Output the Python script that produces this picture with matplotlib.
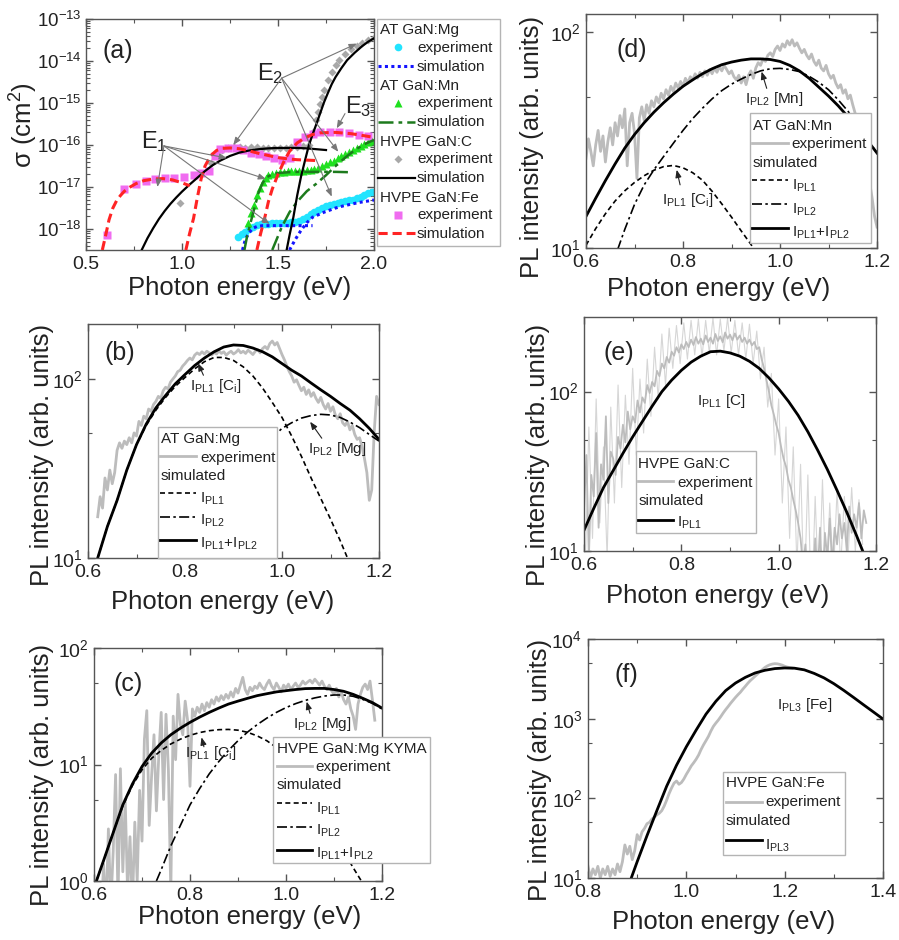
import numpy as np
import matplotlib
matplotlib.use('Agg')
import matplotlib.pyplot as plt
from matplotlib.transforms import Affine2D
from matplotlib.lines import Line2D
from matplotlib.patches import Rectangle
from matplotlib.ticker import LogLocator, MultipleLocator, FormatStrFormatter, NullFormatter

plt.rcParams['font.family'] = ['Liberation Sans', 'DejaVu Sans']
plt.rcParams['mathtext.fontset'] = 'custom'
plt.rcParams['mathtext.rm'] = 'Liberation Sans'
plt.rcParams['mathtext.it'] = 'Liberation Sans:italic'
plt.rcParams['mathtext.bf'] = 'Liberation Sans:bold'
plt.rcParams['mathtext.default'] = 'regular'
plt.rcParams['axes.unicode_minus'] = False

# ---------------- (a) photoionisation cross sections, log10(sigma / cm^2) ----------------
mg_exp_e = [1.29, 1.31, 1.33, 1.35, 1.37, 1.39, 1.41, 1.43, 1.45, 1.47, 1.49, 1.51, 1.53, 1.55, 1.57, 1.59,
            1.61, 1.63, 1.65, 1.67, 1.69, 1.71, 1.73, 1.75, 1.77, 1.79, 1.81, 1.83, 1.85, 1.87, 1.89, 1.91,
            1.93, 1.95, 1.97, 1.99]
mg_exp_lg = [-18.18, -18.12, -18.06, -18.00, -17.95, -17.91, -17.89, -17.88, -17.87, -17.86, -17.86, -17.85,
             -17.85, -17.85, -17.84, -17.83, -17.80, -17.76, -17.71, -17.65, -17.59, -17.54, -17.49, -17.45,
             -17.42, -17.40, -17.38, -17.36, -17.34, -17.32, -17.30, -17.27, -17.23, -17.19, -17.15, -17.12]
mg_sim1_e = [1.315, 1.33, 1.35, 1.37, 1.39, 1.42, 1.46, 1.50, 1.55, 1.60, 1.65, 1.68]
mg_sim1_lg = [-18.5, -18.25, -18.08, -17.98, -17.94, -17.92, -17.92, -17.92, -17.92, -17.92, -17.92, -17.92]
mg_sim2_e = [1.56, 1.59, 1.62, 1.65, 1.68, 1.71, 1.74, 1.77, 1.80, 1.84, 1.88, 1.92, 1.96, 2.00]
mg_sim2_lg = [-18.5, -18.25, -18.03, -17.85, -17.72, -17.66, -17.6, -17.55, -17.5, -17.45, -17.41, -17.37,
              -17.34, -17.31]

mn_exp_e = [1.345, 1.36, 1.375, 1.39, 1.405, 1.42, 1.435, 1.45, 1.47, 1.49, 1.51, 1.53, 1.55, 1.57, 1.59,
            1.61, 1.63, 1.65, 1.67, 1.69, 1.71, 1.73, 1.75, 1.77, 1.79, 1.81, 1.83, 1.85, 1.87, 1.89, 1.91,
            1.93, 1.95, 1.97, 1.99]
mn_exp_lg = [-17.85, -17.62, -17.42, -17.2, -17.02, -16.88, -16.78, -16.72, -16.68, -16.66, -16.65, -16.64,
             -16.63, -16.63, -16.62, -16.62, -16.61, -16.60, -16.59, -16.57, -16.54, -16.50, -16.46, -16.41,
             -16.37, -16.32, -16.27, -16.22, -16.17, -16.12, -16.07, -16.02, -15.98, -15.94, -15.90]
mn_sim1_e = [1.325, 1.34, 1.36, 1.38, 1.40, 1.42, 1.44, 1.47, 1.50, 1.55, 1.60, 1.70, 1.80, 1.89]
mn_sim1_lg = [-18.5, -18.15, -17.8, -17.45, -17.12, -16.9, -16.77, -16.70, -16.67, -16.65, -16.64, -16.64,
              -16.64, -16.65]
mn_sim2_e = [1.47, 1.52, 1.56, 1.60, 1.65, 1.70, 1.75, 1.80, 1.85, 1.90, 1.95, 2.00]
mn_sim2_lg = [-18.5, -17.95, -17.6, -17.35, -17.1, -16.92, -16.72, -16.5, -16.3, -16.12, -15.98, -15.88]

gc_exp_e = [0.99, 1.15, 1.18, 1.21, 1.24, 1.27, 1.30, 1.33, 1.36, 1.39, 1.42, 1.45, 1.48, 1.51, 1.54, 1.57,
            1.60, 1.63, 1.66, 1.68, 1.70, 1.71, 1.72, 1.73, 1.74, 1.76, 1.78, 1.80, 1.82, 1.85, 1.88, 1.91,
            1.94, 1.97, 2.00]
gc_exp_lg = [-17.38, -16.42, -16.22, -16.12, -16.07, -16.05, -16.05, -16.06, -16.05, -16.05, -16.06, -16.06,
             -16.07, -16.07, -16.06, -16.05, -16.04, -16.02, -16.0, -15.7, -15.4, -15.22, -15.02, -14.85,
             -14.7, -14.45, -14.25, -14.1, -13.97, -13.83, -13.72, -13.64, -13.57, -13.51, -13.45]
gc_sim1_e = [0.79, 0.82, 0.85, 0.88, 0.91, 0.94, 0.97, 1.00, 1.04, 1.08, 1.12, 1.16, 1.20, 1.25, 1.30, 1.35,
             1.40, 1.45, 1.50, 1.55, 1.60, 1.65, 1.70, 1.75]
gc_sim1_lg = [-18.5, -18.22, -17.98, -17.76, -17.57, -17.40, -17.25, -17.11, -16.94, -16.78, -16.62, -16.48,
              -16.37, -16.26, -16.18, -16.13, -16.10, -16.08, -16.07, -16.07, -16.07, -16.08, -16.10, -16.12]
gc_sim2_e = [1.545, 1.56, 1.58, 1.60, 1.62, 1.64, 1.66, 1.68, 1.70, 1.72, 1.74, 1.76, 1.78, 1.80, 1.83, 1.86,
             1.90, 1.94, 1.97, 2.00]
gc_sim2_lg = [-18.5, -18.15, -17.72, -17.2, -16.75, -16.38, -16.02, -15.75, -15.5, -15.24, -14.98, -14.76,
              -14.55, -14.38, -14.17, -13.98, -13.8, -13.64, -13.54, -13.46]

fe_exp_e = [0.61, 0.70, 0.76, 0.81, 0.86, 0.91, 0.96, 1.01, 1.06, 1.10, 1.14, 1.17, 1.20, 1.24, 1.28, 1.32,
            1.36, 1.40, 1.44, 1.48, 1.52, 1.56, 1.60, 1.64, 1.68, 1.72, 1.77, 1.82, 1.87, 1.92, 1.97]
fe_exp_lg = [-18.15, -17.05, -16.92, -16.85, -16.80, -16.78, -16.78, -16.76, -16.72, -16.66, -16.62, -16.25,
             -16.10, -16.08, -16.08, -16.12, -16.18, -16.22, -16.26, -16.32, -16.35, -16.30, -15.92, -15.80,
             -15.74, -15.70, -15.70, -15.70, -15.72, -15.75, -15.78]
fe_sim1_e = [0.585, 0.60, 0.62, 0.64, 0.66, 0.68, 0.70, 0.73, 0.76, 0.80, 0.85, 0.90, 0.95, 1.00, 1.04]
fe_sim1_lg = [-18.5, -18.2, -17.78, -17.5, -17.32, -17.2, -17.1, -17.0, -16.92, -16.85, -16.81, -16.80,
              -16.83, -16.90, -16.97]
fe_sim2_e = [1.02, 1.04, 1.06, 1.08, 1.10, 1.12, 1.15, 1.18, 1.21, 1.25, 1.30, 1.35, 1.40, 1.45, 1.50, 1.55,
             1.60, 1.65, 1.70]
fe_sim2_lg = [-18.5, -18.1, -17.75, -17.25, -16.80, -16.50, -16.25, -16.13, -16.08, -16.07, -16.09, -16.14,
              -16.20, -16.25, -16.30, -16.33, -16.35, -16.36, -16.37]
fe_sim3_e = [1.39, 1.41, 1.43, 1.45, 1.47, 1.50, 1.53, 1.56, 1.60, 1.64, 1.68, 1.72, 1.80, 1.88, 1.95, 2.00]
fe_sim3_lg = [-18.5, -18.1, -17.75, -17.35, -17.05, -16.7, -16.4, -16.15, -15.95, -15.83, -15.75, -15.71,
              -15.70, -15.73, -15.78, -15.82]

# ---------------- (b) AT GaN:Mg ----------------
b_sim_e = [0.62, 0.64, 0.66, 0.68, 0.70, 0.72, 0.74, 0.76, 0.78, 0.80, 0.82, 0.84, 0.86, 0.88, 0.90, 0.92,
           0.94, 0.96, 0.98, 1.00, 1.02, 1.04, 1.06, 1.08, 1.10, 1.12, 1.14, 1.16, 1.18, 1.20]
b_total = [10, 15, 21, 31, 43, 56, 69, 81, 94, 106, 119, 131, 142, 151, 155, 154, 149, 142, 133, 122, 112,
           104, 95, 87, 80, 73, 67, 60, 53, 46]
b_pl1_e = [0.62, 0.64, 0.66, 0.68, 0.70, 0.72, 0.74, 0.76, 0.78, 0.80, 0.82, 0.84, 0.86, 0.88, 0.90, 0.92,
           0.94, 0.96, 0.98, 1.00, 1.02, 1.04, 1.06, 1.08, 1.10, 1.12, 1.135]
b_pl1 = [10, 15, 21, 31, 43, 55, 67, 79, 91, 102, 114, 125, 132, 132, 127, 117, 104, 89, 74, 61, 48, 37, 28,
         21.5, 16.5, 12.5, 10]
b_pl2_e = [0.80, 0.84, 0.88, 0.92, 0.96, 1.00, 1.02, 1.04, 1.06, 1.08, 1.10, 1.12, 1.14, 1.16, 1.18, 1.20]
b_pl2 = [9, 15, 23, 32, 42, 53, 57, 60.5, 62.5, 63.5, 63, 61, 57.5, 53.5, 49, 45]
b_exp = [17, 22, 19, 28, 24, 31, 26, 30, 40, 44,
         41, 45, 43, 47, 44, 50, 48, 58, 55, 62,
         60, 68, 66, 72, 75, 80, 78, 86, 90, 88,
         96, 100, 104, 110, 112, 118, 122, 127, 131, 128,
         136, 140, 137, 142, 138, 143, 140, 136, 141, 138,
         144, 139, 142, 136, 140, 143, 138, 141, 146, 140,
         143, 139, 145, 141, 137, 143, 146, 140, 148, 152,
         147, 158, 163, 155, 160, 148, 137, 128, 118, 110,
         104, 96, 99, 92, 86, 90, 82, 87, 80, 84,
         78, 74, 79, 72, 68, 73, 66, 70, 63, 60,
         64, 57, 55, 58, 52, 55, 49, 46, 47, 42,
         36, 30, 21, 24, 50, 80, 72]

# ---------------- (c) HVPE GaN:Mg KYMA ----------------
c_tot_e = [0.605, 0.62, 0.64, 0.66, 0.68, 0.70, 0.72, 0.74, 0.76, 0.78, 0.80, 0.82, 0.84, 0.86, 0.88, 0.90,
           0.92, 0.94, 0.96, 0.98, 1.00, 1.02, 1.04, 1.06, 1.08, 1.10, 1.12, 1.14, 1.16, 1.18, 1.20]
c_total = [1.0, 1.5, 2.6, 4.5, 6.8, 9.6, 12.5, 15.3, 18.0, 20.5, 23, 25.5, 28, 30.5, 33, 35, 37, 39, 40.5,
           42, 43, 44, 44.8, 45, 45, 44, 42.5, 40, 37, 34, 30.5]
c_pl1_e = [0.605, 0.62, 0.64, 0.66, 0.68, 0.70, 0.72, 0.74, 0.76, 0.78, 0.80, 0.82, 0.84, 0.86, 0.88, 0.90,
           0.92, 0.94, 0.96, 0.98, 1.00, 1.02, 1.04, 1.06, 1.08, 1.10, 1.12, 1.14, 1.157]
c_pl1 = [1.0, 1.5, 2.6, 4.4, 6.6, 9.0, 11.3, 13.2, 15.0, 16.5, 17.8, 18.8, 19.5, 19.9, 20.0, 19.7, 18.9, 17.6,
         16.0, 14.0, 11.8, 9.5, 7.3, 5.4, 3.8, 2.6, 1.8, 1.3, 1.0]
c_pl2_e = [0.73, 0.74, 0.76, 0.78, 0.80, 0.82, 0.84, 0.86, 0.88, 0.90, 0.92, 0.94, 0.96, 0.98, 1.00, 1.02,
           1.04, 1.06, 1.08, 1.10, 1.12, 1.14, 1.16, 1.18, 1.20]
c_pl2 = [1.0, 1.25, 2.0, 3.0, 4.5, 6.2, 8.3, 10.6, 13.2, 16.0, 19.0, 22.0, 25.0, 28.0, 30.8, 33.3, 35.5, 37.3,
         38.7, 39.5, 39.5, 38.5, 36.2, 33.5, 30]
c_exp = [0.5, 0.5, 0.6, 0.5, 1.4, 0.5, 2.8, 0.6, 1.8, 8.2,
         0.7, 9.2, 1.2, 5.0, 0.8, 2.4, 0.6, 3.2, 1.0, 6.0,
         2.2, 16.5, 29.0, 3.0, 8.0, 18.0, 4.0, 12.0, 28.0, 5.0,
         27.0, 9.0, 0.8, 26.0, 11.0, 40.0, 22.0, 18.0, 35.0, 24.0,
         6.5, 30, 26, 31, 28, 33, 29, 34, 31, 36,
         33, 38, 35, 39, 36, 40, 37, 42, 38, 45,
         41, 48, 56, 44, 40, 46, 43, 47, 45, 50,
         46, 44, 49, 53, 47, 44, 50, 46, 42, 48,
         45, 49, 44, 47, 50, 46, 48, 52, 49, 51,
         53, 50, 54, 51, 48, 52, 47, 44, 48, 43,
         40, 45, 38, 42, 36, 33, 38, 30, 26, 20,
         33, 40, 46, 49, 44, 52, 36, 24]

# ---------------- (d) AT GaN:Mn ----------------
d_tot_e = [0.60, 0.62, 0.64, 0.66, 0.68, 0.70, 0.72, 0.74, 0.76, 0.78, 0.80, 0.82, 0.84, 0.86, 0.88, 0.90,
           0.92, 0.94, 0.96, 0.98, 1.00, 1.02, 1.04, 1.06, 1.08, 1.10, 1.12, 1.14, 1.16, 1.18, 1.20]
d_total = [14, 17, 20.5, 24.5, 29, 33.5, 38, 42.5, 47, 51.5, 56, 60, 64, 67.5, 70.5, 72.5, 74, 75, 75, 74.5,
           73, 70, 66, 61, 55.5, 50.5, 45.5, 40.5, 36, 31.5, 27.5]
d_pl1_e = [0.60, 0.62, 0.64, 0.66, 0.68, 0.70, 0.72, 0.74, 0.76, 0.78, 0.80, 0.82, 0.84, 0.86, 0.88, 0.90,
           0.92, 0.94, 0.95]
d_pl1 = [10.3, 12.3, 14.4, 16.5, 18.4, 20.1, 21.6, 22.9, 23.8, 24.1, 23.5, 22.3, 20.6, 18.3, 16.0, 13.9,
         12.0, 10.4, 9.6]
d_pl2_e = [0.665, 0.68, 0.70, 0.72, 0.74, 0.76, 0.78, 0.80, 0.82, 0.84, 0.86, 0.88, 0.90, 0.92, 0.94, 0.96,
           0.98, 1.00, 1.02, 1.04, 1.06, 1.08, 1.10, 1.12, 1.14, 1.16, 1.18, 1.20]
d_pl2 = [9.8, 12.2, 15.9, 19.6, 23.0, 26.5, 30.5, 35.0, 39.7, 44.3, 49.0, 53.5, 57.3, 60.5, 63.5, 66.0,
         67.5, 67.8, 67.0, 65.5, 62.3, 58.5, 54.0, 48.5, 43.0, 37.5, 32.0, 27.5]
d_exp = [26, 32, 28, 24, 30, 35, 28, 33, 25, 31,
         36, 30, 38, 33, 41, 36, 44, 24, 38, 42,
         34, 21, 40, 45, 39, 46, 42, 48, 45, 50,
         47, 52, 49, 54, 51, 56, 53, 58, 55, 59,
         56, 61, 58, 62, 60, 64, 61, 65, 62, 66,
         63, 67, 64, 68, 65, 69, 66, 70, 67, 64,
         66, 62, 60, 63, 58, 62, 57, 63, 66, 61,
         68, 72, 70, 75, 73, 78, 80, 77, 83, 86,
         82, 88, 85, 91, 87, 92, 86, 89, 84, 80,
         83, 78, 75, 79, 73, 70, 74, 68, 66, 70,
         64, 61, 63, 58, 55, 57, 52, 54, 49, 51,
         46, 42, 38, 34, 30, 27, 24, 20, 17, 14,
         12.5]

# ---------------- (e) HVPE GaN:C ----------------
e_sim_e = [0.60, 0.62, 0.64, 0.66, 0.68, 0.70, 0.72, 0.74, 0.76, 0.78, 0.80, 0.82, 0.84, 0.86, 0.88, 0.90,
           0.92, 0.94, 0.96, 0.98, 1.00, 1.02, 1.04, 1.06, 1.08, 1.10, 1.12, 1.14, 1.16, 1.175]
e_pl1 = [13.5, 18.5, 25, 32, 41, 52, 65, 81, 100, 118, 136, 153, 167, 178, 179.5, 175, 167, 155, 140, 122,
         104, 87, 71, 56, 43, 32.5, 24, 17.5, 12.5, 9.6]
e_exp = [18, 40, 9, 30, 22, 55, 14, 35, 28, 70,
         20, 42, 38, 30, 52, 44, 62, 48, 75, 58,
         70, 64, 88, 74, 92, 85, 110, 98, 115, 108,
         135, 125, 150, 140, 165, 152, 178, 168, 190, 176,
         198, 185, 205, 190, 212, 196, 220, 200, 215, 198,
         225, 205, 218, 200, 230, 208, 222, 204, 235, 215,
         228, 210, 232, 212, 225, 205, 218, 200, 212, 195,
         205, 185, 190, 160, 140, 118, 100, 82, 72, 62,
         55, 45, 38, 34, 28, 25, 21, 18, 15, 12,
         8, 11, 6, 9, 5, 12, 7, 14, 6, 13,
         9, 16, 8, 14, 11, 17, 12, 15, 10, 19,
         13, 17, 14, 20, 12, 18, 15]
# single-shot spikes of the same measurement (0.0075 eV steps, offset grid)
e_spk = [8, 60, 12, 90, 15, 45, 9, 80, 20, 110,
         25, 95, 35, 140, 40, 120, 55, 160, 70, 190,
         90, 230, 110, 250, 140, 260, 150, 270, 160, 280,
         170, 285, 165, 280, 175, 290, 170, 285, 180, 290,
         175, 280, 170, 270, 160, 265, 150, 240, 120, 190,
         80, 130, 40, 90, 20, 60, 12, 45, 8, 35,
         5, 30, 4, 22, 5, 28, 6, 20, 7, 24,
         8, 22, 9, 25, 10, 21, 11]

# ---------------- (f) HVPE GaN:Fe ----------------
f_sim_e = [0.888, 0.90, 0.92, 0.94, 0.96, 0.98, 1.00, 1.02, 1.04, 1.06, 1.08, 1.10, 1.12, 1.14, 1.16, 1.18,
           1.20, 1.22, 1.24, 1.26, 1.28, 1.30, 1.32, 1.34, 1.36, 1.38, 1.40]
f_pl3 = [10, 16, 34, 70, 142, 260, 444, 720, 1140, 1650, 2250, 2800, 3300, 3750, 4050, 4250, 4330, 4300,
         4100, 3700, 3250, 2750, 2270, 1850, 1500, 1220, 990]
f_exp = [14, 10, 13, 11, 14, 10, 13, 11, 14, 10.5,
         13, 11, 15, 12, 16, 26, 20, 25, 17, 22,
         35, 30, 38, 42, 48, 50, 55, 58, 62, 65,
         70, 80, 95, 115, 135, 155, 165, 150, 158, 175,
         200, 225, 255, 280, 310, 350, 410, 470, 530, 600,
         700, 800, 880, 960, 1060, 1180, 1300, 1420, 1560, 1700,
         1850, 2000, 2150, 2350, 2550, 2780, 3000, 3200, 3420, 3650,
         3900, 4150, 4400, 4600, 4750, 4850, 4900, 4880, 4800, 4700,
         4550, 4450, 4380, 4330]

# sampling energies of the measured PL spectra
b_exp_e = np.linspace(0.62, 1.20, len(b_exp))
c_exp_e = np.linspace(0.60, 1.185, len(c_exp))
d_exp_e = np.linspace(0.60, 1.20, len(d_exp))
e_exp_e = np.linspace(0.60, 1.18, len(e_exp))
e_spk_e = np.linspace(0.6025, 1.1725, len(e_spk))
f_exp_e = np.linspace(0.80, 1.215, len(f_exp))

# ---------------- figure helpers ----------------
W, H = 899, 940
fig = plt.figure(figsize=(W / 100, H / 100), dpi=100)
fig.patch.set_facecolor('white')
PX = Affine2D().scale(1.0 / W, -1.0 / H).translate(0, 1) + fig.transFigure

GRAY = '#bcbcbc'
TICK_FS = 14
LAB_FS = 18.5
LEG_FS = 11


def add_ax(l, t, r, b):
    return fig.add_axes([l / W, 1 - b / H, (r - l) / W, (b - t) / H])


def style_axes(ax, xlim, ylim, xmajor, xminor, ysubs):
    ax.set_yscale('log')
    ax.set_xlim(*xlim)
    ax.set_ylim(*ylim)
    ax.xaxis.set_major_locator(MultipleLocator(xmajor))
    ax.xaxis.set_minor_locator(MultipleLocator(xminor))
    ax.xaxis.set_major_formatter(FormatStrFormatter('%.1f'))
    ax.yaxis.set_major_locator(LogLocator(base=10, numticks=30))
    ax.yaxis.set_minor_locator(LogLocator(base=10, subs=ysubs, numticks=30))
    ax.yaxis.set_minor_formatter(NullFormatter())
    ax.tick_params(which='both', direction='in', top=True, right=True, labelsize=TICK_FS,
                   color='#555555', labelcolor='#222222', pad=4)
    ax.tick_params(which='major', length=5, width=1.0)
    ax.tick_params(which='minor', length=3, width=0.8)
    for s in ax.spines.values():
        s.set_color('#555555')
        s.set_linewidth(1.0)


def px_text(x, y, s, **kw):
    kw.setdefault('ha', 'center')
    kw.setdefault('va', 'center')
    fig.text(x, y, s, transform=PX, color='#222222', **kw)


def legend_box(box, rows):
    x0, y0, x1, y1 = box
    fig.add_artist(Rectangle((x0, y0), x1 - x0, y1 - y0, transform=PX, facecolor='white',
                             edgecolor='#b4b4b4', lw=1.0, zorder=5))
    for row in rows:
        kind = row[0]
        if kind == 'text':
            _, x, yb, s = row
        elif kind == 'line':
            _, hx0, hx1, hy, style, x, yb, s = row
            fig.add_artist(Line2D([hx0, hx1], [hy, hy], transform=PX, zorder=6, **style))
        else:
            _, mx, my, style, x, yb, s = row
            fig.add_artist(Line2D([mx], [my], transform=PX, zorder=6, ls='none', **style))
        fig.text(x, yb, s, transform=PX, fontsize=LEG_FS, ha='left', va='baseline', zorder=7,
                 color='#222222')


def arrow(ax, start, end, color='#222222', lw=0.8):
    ax.annotate('', xy=end, xytext=start,
                arrowprops=dict(arrowstyle='-|>,head_length=0.45,head_width=0.18', color=color,
                                lw=lw, shrinkA=0, shrinkB=0))


def lg(v):
    return 10.0 ** np.asarray(v)


EXP_LINE = dict(color=GRAY, lw=2.0)
DASH = dict(color='black', lw=1.2, ls=(0, (3, 2)))
DASHDOT = dict(color='black', lw=1.2, ls=(0, (6, 2, 1.5, 2)))
SOLID = dict(color='black', lw=2.0)

# ================= (a) =================
ax = add_ax(86, 19, 374, 250)
c_mg, c_mgs = '#22e4ff', '#1414ff'
c_mn, c_mns = '#1fe01f', '#1d7a1d'
c_c, c_cs = '#a8a8a8', 'black'
c_fe, c_fes = '#f06cf0', '#ff2424'
ax.plot(mg_exp_e, lg(mg_exp_lg), 'o', color=c_mg, ms=5.5, mec='none', zorder=2)
ax.plot(mn_exp_e, lg(mn_exp_lg), '^', color=c_mn, ms=6, mec='none', zorder=2)
ax.plot(gc_exp_e, lg(gc_exp_lg), 'D', color=c_c, ms=4.5, mec='none', zorder=2)
ax.plot(fe_exp_e, lg(fe_exp_lg), 's', color=c_fe, ms=6, mec='none', zorder=2)
MG_STYLE = dict(color=c_mgs, lw=2.2, ls=(0, (1, 1.1)))
MN_STYLE = dict(color=c_mns, lw=1.8, ls=(0, (6, 2, 1.5, 2)))
C_STYLE = dict(color=c_cs, lw=1.6)
FE_STYLE = dict(color=c_fes, lw=2.2, ls=(0, (3, 1.6)))
for e, v in ((mg_sim1_e, mg_sim1_lg), (mg_sim2_e, mg_sim2_lg)):
    ax.plot(e, lg(v), zorder=3, **MG_STYLE)
for e, v in ((mn_sim1_e, mn_sim1_lg), (mn_sim2_e, mn_sim2_lg)):
    ax.plot(e, lg(v), zorder=3, **MN_STYLE)
for e, v in ((gc_sim1_e, gc_sim1_lg), (gc_sim2_e, gc_sim2_lg)):
    ax.plot(e, lg(v), zorder=3, **C_STYLE)
for e, v in ((fe_sim1_e, fe_sim1_lg), (fe_sim2_e, fe_sim2_lg), (fe_sim3_e, fe_sim3_lg)):
    ax.plot(e, lg(v), zorder=3, **FE_STYLE)
style_axes(ax, (0.5, 2.0), (10 ** -18.5, 1e-13), 0.5, 0.25, np.arange(2, 10))
ax.tick_params(axis='y', which='major', labelsize=13.5, pad=3)

# transition labels with arrows
ax.text(0.786, 8.5e-17, r'E$_1$', fontsize=17, ha='left', va='baseline', color='#222222')
ax.text(1.389, 3.5e-15, r'E$_2$', fontsize=17, ha='left', va='baseline', color='#222222')
ax.text(1.849, 5.7e-16, r'E$_3$', fontsize=17, ha='left', va='baseline', color='#222222')
e1_from = (0.906, 9.5e-17)
for tgt in ((0.872, 1.0e-17), (1.234, 4.9e-17), (1.4375, 1.55e-17), (1.456, 1.32e-18)):
    arrow(ax, e1_from, tgt, color='#777777')
e2_from = (1.519, 3.9e-15)
for tgt in ((1.267, 1.0e-16), (1.91, 2.6e-14), (1.814, 6.9e-17), (1.78, 5.9e-18)):
    arrow(ax, e2_from, tgt, color='#777777')
arrow(ax, (1.849, 5.6e-16), (1.806, 2.5e-16), color='#777777')

px_text(117.5, 51, '(a)', fontsize=18)
px_text(239.5, 288, 'Photon energy (eV)', fontsize=LAB_FS)
px_text(24, 125, r'σ (cm$^{2}$)', fontsize=LAB_FS, rotation=90)

la = []
groups = [('AT GaN:Mg', dict(marker='o', color=c_mg, ms=5.5, mec='none'), MG_STYLE),
          ('AT GaN:Mn', dict(marker='^', color=c_mn, ms=6, mec='none'), MN_STYLE),
          ('HVPE GaN:C', dict(marker='D', color=c_c, ms=4.5, mec='none'), C_STYLE),
          ('HVPE GaN:Fe', dict(marker='s', color=c_fe, ms=6, mec='none'), FE_STYLE)]
for i, (name, mk, ln) in enumerate(groups):
    y0 = 34.3 + i * 55.8
    la.append(('text', 380, y0, name))
    la.append(('marker', 398, y0 + 13.0, mk, 417, y0 + 17.4, 'experiment'))
    la.append(('line', 378, 415, y0 + 31.7, ln, 417, y0 + 36.4, 'simulation'))
legend_box((377, 19, 500, 246), la)

# ================= (b) =================
ax = add_ax(88, 324, 379, 558)
ax.plot(b_exp_e, b_exp, **EXP_LINE)
ax.plot(b_pl1_e, b_pl1, **DASH)
ax.plot(b_pl2_e, b_pl2, **DASHDOT)
ax.plot(b_sim_e, b_total, **SOLID)
style_axes(ax, (0.6, 1.2), (10, 203), 0.2, 0.1, (5,))
ax.text(0.810, 87, r'I$_{PL1}$ [C$_i$]', fontsize=LEG_FS, ha='left', va='baseline', color='#222222')
arrow(ax, (0.838, 105), (0.827, 122.5))
ax.text(1.054, 38.4, r'I$_{PL2}$ [Mg]', fontsize=LEG_FS, ha='left', va='baseline', color='#222222')
arrow(ax, (1.082, 46.7), (1.058, 57.7))
px_text(120, 353, '(b)', fontsize=18)
px_text(222.5, 602, 'Photon energy (eV)', fontsize=LAB_FS)
px_text(42, 455, 'PL intensity (arb. units)', fontsize=LAB_FS, rotation=90)
legend_box((158, 427, 277, 558), [
    ('text', 161, 443.3, 'AT GaN:Mg'),
    ('line', 160, 196, 455.7, EXP_LINE, 200, 461.7, 'experiment'),
    ('text', 161, 480, 'simulated'),
    ('line', 160, 196, 493.3, DASH, 200, 502.7, r'I$_{PL1}$'),
    ('line', 160, 196, 516.7, DASHDOT, 200, 525, r'I$_{PL2}$'),
    ('line', 160, 196, 540, SOLID, 200, 547.3, r'I$_{PL1}$+I$_{PL2}$'),
])

# ================= (c) =================
ax = add_ax(94, 648, 382, 881)
ax.plot(c_exp_e, c_exp, **EXP_LINE)
ax.plot(c_pl1_e, c_pl1, **DASH)
ax.plot(c_pl2_e, c_pl2, **DASHDOT)
ax.plot(c_tot_e, c_total, **SOLID)
style_axes(ax, (0.6, 1.2), (1, 100), 0.2, 0.1, (5,))
ax.text(0.79, 11.7, r'I$_{PL1}$ [C$_i$]', fontsize=LEG_FS, ha='left', va='baseline', color='#222222')
arrow(ax, (0.829, 14.2), (0.824, 17.1))
ax.text(1.015, 20.5, r'I$_{PL2}$ [Mg]', fontsize=LEG_FS, ha='left', va='baseline', color='#222222')
arrow(ax, (1.05, 27.5), (1.043, 34.6))
px_text(128, 684, '(c)', fontsize=18)
px_text(250, 917, 'Photon energy (eV)', fontsize=LAB_FS)
px_text(42, 775, 'PL intensity (arb. units)', fontsize=LAB_FS, rotation=90)
legend_box((273, 737, 430, 863), [
    ('text', 277, 752.7, 'HVPE GaN:Mg KYMA'),
    ('line', 277, 312, 765.7, EXP_LINE, 315, 770.7, 'experiment'),
    ('text', 277, 789.3, 'simulated'),
    ('line', 277, 312, 802.7, DASH, 316, 812.7, r'I$_{PL1}$'),
    ('line', 277, 312, 826.7, DASHDOT, 316, 835, r'I$_{PL2}$'),
    ('line', 277, 312, 850, SOLID, 316, 857.3, r'I$_{PL1}$+I$_{PL2}$'),
])

# ================= (d) =================
ax = add_ax(586, 14, 877, 248)
ax.plot(d_exp_e, d_exp, **EXP_LINE)
ax.plot(d_pl1_e, d_pl1, **DASH)
ax.plot(d_pl2_e, d_pl2, **DASHDOT)
ax.plot(d_tot_e, d_total, **SOLID)
style_axes(ax, (0.6, 1.2), (10, 121), 0.2, 0.1, (5,))
ax.text(0.928, 46.8, r'I$_{PL2}$ [Mn]', fontsize=LEG_FS, ha='left', va='baseline', color='#222222')
arrow(ax, (0.9726, 54.8), (0.962, 65.5))
ax.text(0.756, 16.0, r'I$_{PL1}$ [C$_i$]', fontsize=LEG_FS, ha='left', va='baseline', color='#222222')
arrow(ax, (0.794, 19.6), (0.787, 23.0))
px_text(632, 50, '(d)', fontsize=18)
px_text(719, 289, 'Photon energy (eV)', fontsize=LAB_FS)
px_text(532, 147, 'PL intensity (arb. units)', fontsize=LAB_FS, rotation=90)
legend_box((750, 113, 871, 243), [
    ('text', 753, 130, 'AT GaN:Mn'),
    ('line', 752, 788, 142.7, EXP_LINE, 791.7, 148.3, 'experiment'),
    ('text', 753, 166.7, 'simulated'),
    ('line', 752, 788, 180, DASH, 791.7, 190, r'I$_{PL1}$'),
    ('line', 752, 788, 204, DASHDOT, 791.7, 213.3, r'I$_{PL2}$'),
    ('line', 752, 788, 227.7, SOLID, 791.7, 236.7, r'I$_{PL1}$+I$_{PL2}$'),
])

# ================= (e) =================
ax = add_ax(584, 317, 876, 551)
ax.plot(e_spk_e, e_spk, color='#d6d6d6', lw=0.8)
ax.plot(e_exp_e, e_exp, color=GRAY, lw=1.3)
ax.plot(e_sim_e, e_pl1, **SOLID)
style_axes(ax, (0.6, 1.2), (10, 294), 0.2, 0.1, (5,))
ax.text(0.8316, 82.6, r'I$_{PL1}$ [C]', fontsize=LEG_FS, ha='left', va='baseline', color='#222222')
px_text(619, 353, '(e)', fontsize=18)
px_text(718, 596, 'Photon energy (eV)', fontsize=LAB_FS)
px_text(538, 455, 'PL intensity (arb. units)', fontsize=LAB_FS, rotation=90)
legend_box((636, 451, 756, 533), [
    ('text', 638.3, 468.3, 'HVPE GaN:C'),
    ('line', 638, 673, 480.7, EXP_LINE, 677.3, 486.7, 'experiment'),
    ('text', 638.3, 505, 'simulated'),
    ('line', 638, 673, 520, SOLID, 677.3, 526.7, r'I$_{PL1}$'),
])

# ================= (f) =================
ax = add_ax(588, 639, 883, 878)
ax.plot(f_exp_e, f_exp, **EXP_LINE)
ax.plot(f_sim_e, f_pl3, **SOLID)
style_axes(ax, (0.8, 1.4), (10, 1e4), 0.2, 0.1, (5,))
ax.text(1.184, 1312, r'I$_{PL3}$ [Fe]', fontsize=LEG_FS, ha='left', va='baseline', color='#222222')
px_text(626, 675, '(f)', fontsize=18)
px_text(724, 922, 'Photon energy (eV)', fontsize=LAB_FS)
px_text(540, 770, 'PL intensity (arb. units)', fontsize=LAB_FS, rotation=90)
legend_box((723, 772, 845, 855), [
    ('text', 726, 787.3, 'HVPE GaN:Fe'),
    ('line', 726, 762, 801.7, EXP_LINE, 765, 806, 'experiment'),
    ('text', 726, 825, 'simulated'),
    ('line', 726, 762, 840, SOLID, 765, 850, r'I$_{PL3}$'),
])

fig.savefig('out.png', dpi=100, facecolor='white')
